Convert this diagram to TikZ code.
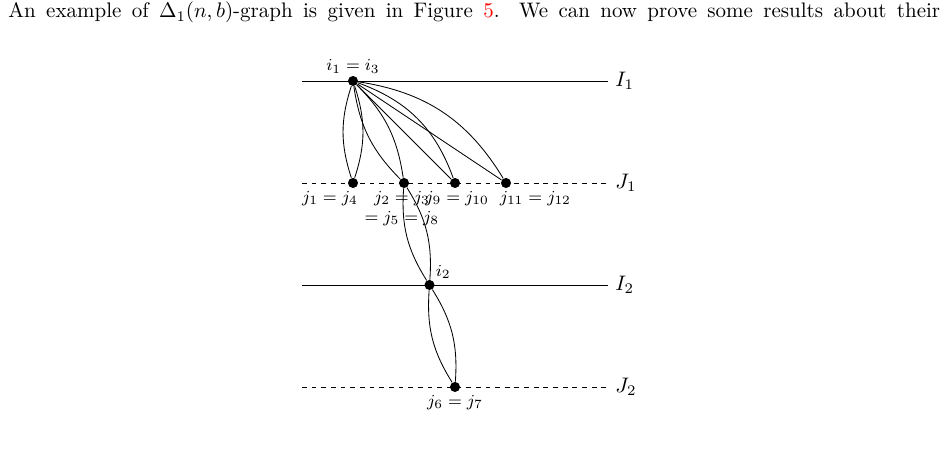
\documentclass[tikz,border=0pt]{standalone}
\usetikzlibrary{positioning}
\begin{document}
\begin{tikzpicture}[x = 0.8537cm, y = 0.8537cm,
    vtx/.style = {circle, fill, inner sep = 0pt, minimum size = 4.8pt},
    lbl/.style = {font = \footnotesize, inner sep = 1pt},
    dashline/.style = {dash pattern = on 2.3pt off 2.3pt}]
    \useasboundingbox (-6.922, -7.314) rectangle (11.667, 1.588);
    \node[anchor = base west, inner sep = 0pt] (para) at (-6.765, 1.235) {\makebox[443.8pt][s]{An example of $\Delta_1(n, b)$-graph is given in Figure \textcolor{red}{5}. We can now prove some results about their}};
    % the four levels
    \draw (-1, 0) -- (5, 0) node[right] (I1) {$I_1$};
    \draw[dashline] (-1, -2) -- (5, -2) node[right] (J1) {$J_1$};
    \draw (-1, -4) -- (5, -4) node[right] (I2) {$I_2$};
    \draw[dashline] (-1, -6) -- (5, -6) node[right] (J2) {$J_2$};
    % vertices
    \node[vtx, label = {[lbl]above:$i_1 = i_3$}] (i1) at (0, 0) {};
    \node[vtx, label = {[lbl, xshift = -11pt]below:$j_1 = j_4$}] (j1) at (0, -2) {};
    \node[vtx, label = {[lbl, align = center, xshift = -1pt]below:$j_2 = j_3$\\$= j_5 = j_8$}] (j2) at (1, -2) {};
    \node[vtx, label = {[lbl, xshift = 1pt]below:$j_9 = j_{10}$}] (j9) at (2, -2) {};
    \node[vtx, label = {[lbl, xshift = 14pt]below:$j_{11} = j_{12}$}] (j11) at (3, -2) {};
    \node[vtx, label = {[lbl]above right:$i_2$}] (i2) at (1.5, -4) {};
    \node[vtx, label = {[lbl]below:$j_6 = j_7$}] (j6) at (2, -6) {};
    % edges
    \draw (i1) to[bend right = 18] (j1);
    \draw (i1) to[bend left = 18] (j1);
    \draw (i1) to[bend right = 18] (j2);
    \draw (i1) to[bend left = 18] (j2);
    \draw (i1) -- (j9);
    \draw (i1) to[bend left = 25] (j9);
    \draw (i1) -- (j11);
    \draw (i1) to[bend left = 25] (j11);
    \draw (j2) to[bend right = 18] (i2);
    \draw (j2) to[bend left = 18] (i2);
    \draw (i2) to[bend right = 18] (j6);
    \draw (i2) to[bend left = 18] (j6);
\end{tikzpicture}
\end{document}
